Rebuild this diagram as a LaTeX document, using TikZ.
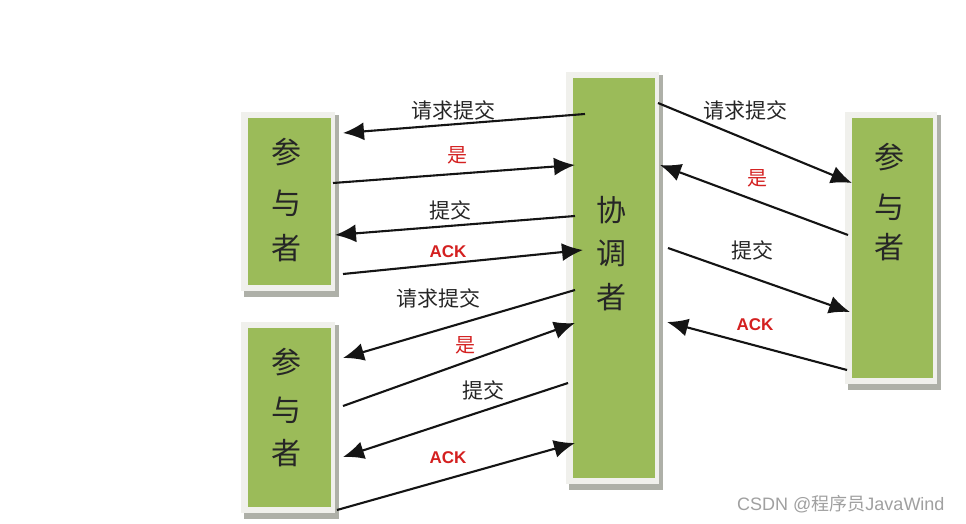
\documentclass[tikz,border=0pt]{standalone}
\usepackage{fontspec}
\setmainfont{Liberation Sans}
\newfontfamily\cjk{Noto Sans CJK SC}
\usetikzlibrary{arrows.meta,backgrounds}
\definecolor{boxgreen}{HTML}{9BBB59}
\definecolor{framecol}{HTML}{F0F0EC}
\definecolor{shadowcol}{HTML}{AEB0A8}
\definecolor{ackred}{HTML}{D42020}
\definecolor{wmgray}{HTML}{A0A0A0}
\tikzset{
  greenbox/.style={fill=boxgreen, draw=none, inner sep=0pt},
  boxchar/.style={font=\cjk\fontsize{30}{30}\selectfont, text=black!85, inner sep=0pt},
  msg/.style={draw=black!92, line width=2.1pt, -{Latex[length=21pt,width=18pt]}},
  lbl/.style={font=\cjk\fontsize{21}{21}\selectfont, text=black!85, inner sep=0pt},
  redlbl/.style={font=\cjk\fontsize{20}{20}\selectfont, text=ackred, inner sep=0pt},
  acklbl/.style={font=\bfseries\fontsize{17}{17}\selectfont, text=ackred, inner sep=0pt},
}
\newcommand{\myboxframe}[1]{%
  \fill[shadowcol] ([shift={(-4,-3)}]#1.north west) rectangle ([shift={(8,12)}]#1.south east);
  \fill[framecol] ([shift={(-7,-6)}]#1.north west) rectangle ([shift={(4,6)}]#1.south east);
}
\begin{document}
\begin{tikzpicture}[x=1pt,y=-1pt]
\useasboundingbox (0,0) rectangle (966,524);

% boxes
\node[greenbox, minimum width=83pt, minimum height=167pt] (L1) at (289.5,201.5) {};
\node[greenbox, minimum width=83pt, minimum height=179pt] (L2) at (289.5,417.5) {};
\node[greenbox, minimum width=82pt, minimum height=400pt] (C) at (614,278) {};
\node[greenbox, minimum width=81pt, minimum height=260pt] (R) at (892.5,248) {};

\begin{scope}[on background layer]
  \fill[white] (0,0) rectangle (966,524);
  \myboxframe{L1}
  \myboxframe{L2}
  \myboxframe{C}
  \myboxframe{R}
\end{scope}

% box texts
\node[boxchar] (L1a) at (286,152) {参};
\node[boxchar] (L1b) at (286,203) {与};
\node[boxchar] (L1c) at (286,248) {者};
\node[boxchar] (L2a) at (286,362) {参};
\node[boxchar] (L2b) at (286,410) {与};
\node[boxchar] (L2c) at (286,453) {者};
\node[boxchar] (Ca) at (611,210) {协};
\node[boxchar] (Cb) at (611,253) {调};
\node[boxchar] (Cc) at (611,297) {者};
\node[boxchar] (Ra) at (889,157) {参};
\node[boxchar] (Rb) at (889,207) {与};
\node[boxchar] (Rc) at (889,247) {者};

% arrows left top
\draw[msg] ([shift={(-29,-164)}]C.center) -- ([shift={(53.5,-68.5)}]L1.center);
\draw[msg] ([shift={(43.5,-18.5)}]L1.center) -- ([shift={(-39,-113)}]C.center);
\draw[msg] ([shift={(-39,-62)}]C.center) -- ([shift={(45.5,33.5)}]L1.center);
\draw[msg] ([shift={(53.5,72.5)}]L1.center) -- ([shift={(-31,-28)}]C.center);
% arrows left bottom
\draw[msg] ([shift={(-39,12)}]C.center) -- ([shift={(53.5,-59.5)}]L2.center);
\draw[msg] ([shift={(53.5,-11.5)}]L2.center) -- ([shift={(-39,45)}]C.center);
\draw[msg] ([shift={(-46,105)}]C.center) -- ([shift={(53.5,39.5)}]L2.center);
\draw[msg] ([shift={(47.5,92.5)}]L2.center) -- ([shift={(-39,165)}]C.center);
% arrows right
\draw[msg] ([shift={(44,-175)}]C.center) -- ([shift={(-40.5,-65)}]R.center);
\draw[msg] ([shift={(-44.5,-13)}]R.center) -- ([shift={(46,-113)}]C.center);
\draw[msg] ([shift={(54,-30)}]C.center) -- ([shift={(-42.5,64)}]R.center);
\draw[msg] ([shift={(-45.5,122)}]R.center) -- ([shift={(53,44)}]C.center);

% labels
\node[lbl] (t1) at (453,110) {请求提交};
\node[redlbl] (t2) at (457,155) {是};
\node[lbl] (t3) at (450,210) {提交};
\node[acklbl] (t4) at (448,252) {ACK};
\node[lbl] (t5) at (438,298) {请求提交};
\node[redlbl] (t6) at (465,345) {是};
\node[lbl] (t7) at (483,390) {提交};
\node[acklbl] (t8) at (448,458) {ACK};
\node[lbl] (t9) at (745,110) {请求提交};
\node[redlbl] (t10) at (757,178) {是};
\node[lbl] (t11) at (752,250) {提交};
\node[acklbl] (t12) at (755,325) {ACK};

% watermark
\node[font=\fontsize{18}{18}\selectfont, text=wmgray, inner sep=0pt, anchor=west] (wm) at (737,504) {CSDN @{\cjk 程序员}JavaWind};
\end{tikzpicture}
\end{document}
